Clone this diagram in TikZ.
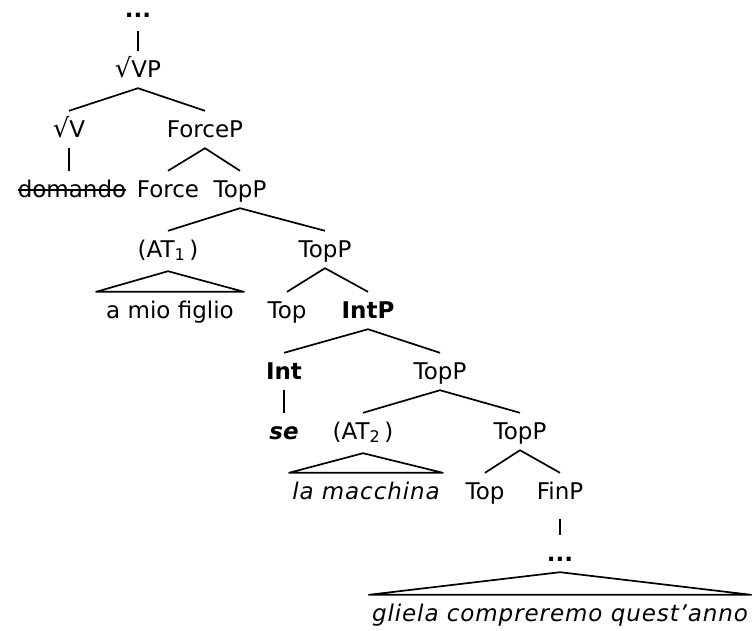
\documentclass[tikz,border=0pt]{standalone}
\usepackage{fontspec}
\setmainfont{DejaVu Sans}
\usepackage{tikz}
\newcommand{\rt}{{\fontsize{26}{27}\selectfont √}}

\begin{document}
\begin{tikzpicture}[
  x=1pt, y=-1pt,
  cat/.style={anchor=base, font=\fontsize{23}{27}\selectfont, text height=21pt, text depth=6pt, inner xsep=2pt, inner ysep=5pt},
  leaf/.style={cat, inner xsep=3pt, font=\fontsize{23}{27}\selectfont\itshape\addfontfeature{LetterSpace=4}},
  gap/.style={cat, font=\fontsize{23}{24}\selectfont\bfseries},
  br/.style={line width=1.7pt, line join=round},
  strike/.style={line width=1.5pt}
]
  \useasboundingbox (0,0) rectangle (754,630);
  % spine from the root down to ForceP
  \node[gap, text height=6pt] (dotsa) at (138,17) {...};
  \node[cat] (vp) at (138,77) {\rt VP};
  \node[cat] (v) at (69,137) {\rt V};
  \node[cat] (forcep) at (205,137) {ForceP};
  \node[cat, inner xsep=0pt] (dom) at (72,197) {domando};
  \node[cat] (force) at (168,197) {Force};
  \node[cat] (topa) at (240,197) {TopP};
  % first topic
  \node[cat] (ata) at (168,257) {(AT\textsubscript{1}\,)};
  \node[cat] (topb) at (325,257) {TopP};
  \node[cat, inner xsep=10pt] (fig) at (170,318) {a mio figlio};
  \node[cat] (tophda) at (287,318) {Top};
  \node[cat] (intp) at (368,318) {\bfseries IntP};
  \node[cat] (int) at (284,379) {\bfseries Int};
  \node[cat] (topc) at (440,379) {TopP};
  % second topic
  \node[cat] (se) at (284,439) {\bfseries\itshape se};
  \node[cat] (atb) at (363,439) {(AT\textsubscript{2}\,)};
  \node[cat] (topd) at (520,439) {TopP};
  \node[leaf] (mac) at (366,499) {la macchina};
  \node[cat] (tophdb) at (485,499) {Top};
  \node[cat] (finp) at (560,499) {FinP};
  \node[gap] (dotsb) at (560,561) {...};
  \node[leaf] (ipc) at (560,621) {gliela compreremo quest'anno};

  % the deleted copy of the verb
  \draw[strike] ([yshift=7pt]dom.base west) -- ([yshift=7pt]dom.base east);

  \draw[br] ([yshift=-3pt]dotsa.south) -- (vp.north);
  \draw[br] (v.north) -- (vp.south) -- (forcep.north);
  \draw[br] (v.south) -- (v.south |- dom.north);
  \draw[br] (force.north) -- (forcep.south) -- (topa.north);
  \draw[br] (ata.north) -- (topa.south) -- (topb.north);
  \draw[br] ([yshift=-3pt]ata.south) -- (fig.north west) -- (fig.north east) -- cycle;
  \draw[br] (tophda.north) -- (topb.south) -- (intp.north);
  \draw[br] (int.north) -- (intp.south) -- (topc.north);
  \draw[br] (int.south) -- (se.north);
  \draw[br] (atb.north) -- (topc.south) -- (topd.north);
  \draw[br] ([yshift=-3pt]atb.south) -- (mac.north west) -- (mac.north east) -- cycle;
  \draw[br] (tophdb.north) -- (topd.south) -- (finp.north);
  \draw[br] ([yshift=-9pt]finp.south) -- (dotsb.north);
  \draw[br] (dotsb.south) -- (ipc.north west) -- (ipc.north east) -- cycle;
\end{tikzpicture}
\end{document}
